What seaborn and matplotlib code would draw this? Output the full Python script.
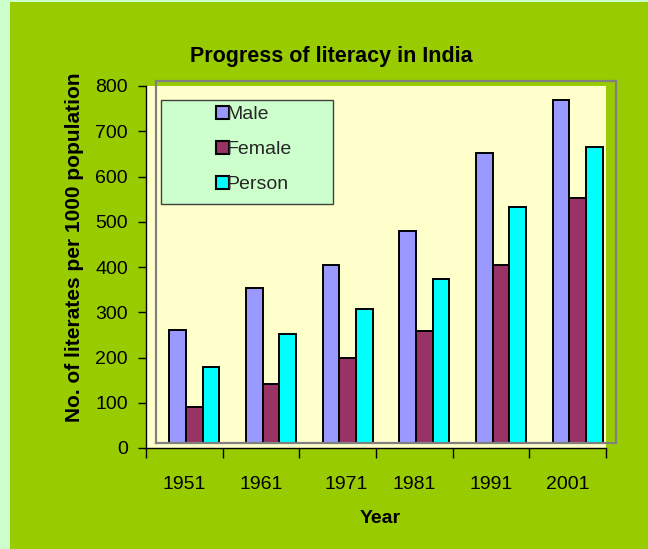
import matplotlib
matplotlib.use("Agg")
import numpy as np
import pandas as pd
import matplotlib.pyplot as plt
from matplotlib.patches import Rectangle, Patch
from matplotlib.transforms import offset_copy
import seaborn as sns

# data
years = ["1951", "1961", "1971", "1981", "1991", "2001"]
male = [261, 354, 405, 480, 653, 770]
female = [90, 141, 198, 259, 404, 553]
person = [178, 251, 307, 373, 533, 665]
series = ["Male", "Female", "Person"]
colors = ["#9999FF", "#993366", "#00FFFF"]

df = pd.DataFrame({
    "Year": years * 3,
    "Series": [s for s in series for _ in years],
    "Value": male + female + person,
})

sns.set_theme(style="white")
plt.rcParams["font.family"] = ["Liberation Sans", "DejaVu Sans"]

W, H = 648, 549
fig = plt.figure(figsize=(W / 100, H / 100), dpi=100, facecolor="#CCFFCC")
fig.patches.append(Rectangle((10 / W, 0), 1 - 10 / W, (H - 2) / H,
                             transform=fig.transFigure, facecolor="#99CC00",
                             edgecolor="none", zorder=-1))

# plot area in pixels, and the offset of the bar frame
L, R, B, T = 146, 606, 448, 86
dx, dy = 10, 5
ax = fig.add_axes([L / W, 1 - B / H, (R - L) / W, (B - T) / H])
ax2 = fig.add_axes([(L + dx) / W, 1 - (B - dy) / H, (R - L) / W, (B - T) / H])
ax2.set_zorder(1)

ax.set_facecolor("#FFFFCC")
ax2.set_facecolor("none")

sns.barplot(data=df, x="Year", y="Value", hue="Series", palette=colors,
            width=0.65, saturation=1, edgecolor="black", linewidth=1.4,
            errorbar=None, legend=False, ax=ax2)

n = len(years)
off = dy * 800 / (B - T)
ax2.set_xlim(-0.5, n - 0.5)
ax2.set_ylim(off, 800 + off)
ax2.set_xticks([])
ax2.set_yticks([])
ax2.set_xlabel("")
ax2.set_ylabel("")
for sp in ax2.spines.values():
    sp.set_visible(True)
    sp.set_color("#808080")
    sp.set_linewidth(1.6)

# main axis with the scale
ax.set_xlim(-0.5, n - 0.5)
ax.set_ylim(0, 800)
ax.set_yticks(range(0, 801, 100))
ax.set_xticks(np.arange(-0.5, n), [""] * (n + 1))
ax.set_xticks(range(n), years, minor=True)
for s in ["top", "right"]:
    ax.spines[s].set_visible(False)
for s in ["left", "bottom"]:
    ax.spines[s].set_color("black")
    ax.spines[s].set_linewidth(1.0)
ax.tick_params(axis="y", left=True, direction="out", length=6, width=1,
               color="black", pad=7, labelsize=14, labelcolor="black")
ax.tick_params(axis="x", which="major", bottom=True, direction="out",
               length=7, width=1, color="black")
ax.tick_params(axis="x", which="minor", bottom=True, length=0, pad=20,
               labelsize=14, labelcolor="black")
# the 1971 label sits a little to the right in the original
lab = ax.get_xticklabels(minor=True)[2]
lab.set_transform(offset_copy(lab.get_transform(), fig=fig, x=9, y=0,
                              units="dots"))

ax.set_ylabel("No. of literates per 1000 population", fontsize=15,
              fontweight="bold", color="black")
ax.yaxis.set_label_coords(-0.135, 0.554)
ax.set_xlabel("Year", fontsize=14, fontweight="bold", color="black")
ax.xaxis.set_label_coords(0.509, -0.17)

fig.text(331 / W, 1 - 62 / H, "Progress of literacy in India", ha="center",
         va="baseline", fontsize=15.5, fontweight="bold", color="black")

# legend box
fig.patches.append(Rectangle((161 / W, 1 - 204 / H), 172 / W, 104 / H,
                             transform=fig.transFigure, facecolor="#CCFFCC",
                             edgecolor="#404040", linewidth=1, zorder=2))
handles = [Patch(facecolor=c, edgecolor="black", linewidth=1.5) for c in colors]
leg = fig.legend(handles, series, loc="upper left",
                 bbox_to_anchor=(216 / W, 1 - 106 / H), frameon=False,
                 fontsize=14, handlelength=0.65, handleheight=0.65,
                 handletextpad=-0.1, labelspacing=0.9, borderpad=0,
                 borderaxespad=0)
leg.set_zorder(3)

fig.savefig("out.png", dpi=100)
